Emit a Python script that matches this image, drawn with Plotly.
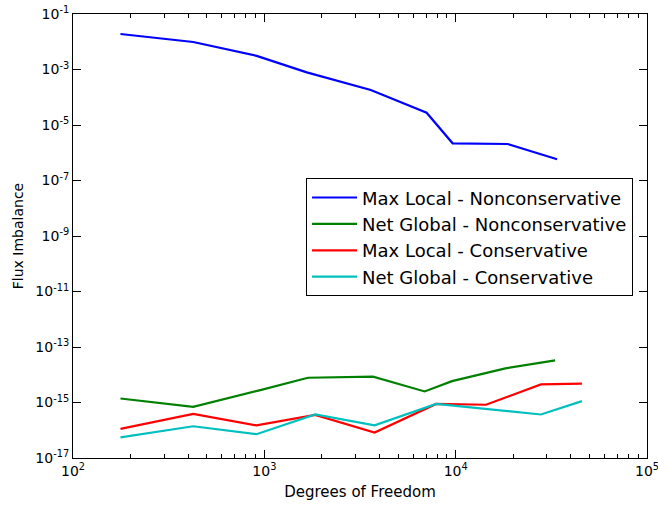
import plotly.graph_objects as go

# Data
dof_ml_nc = [177, 425, 912, 1667, 3600, 7050, 9640, 18700, 33900]
ml_nc = [1.9e-2, 9.8e-3, 3.1e-3, 7.9e-4, 1.82e-4, 2.77e-5, 2.19e-6, 2.07e-6, 5.8e-7]

dof_ng_nc = [177, 425, 953, 1690, 3700, 6890, 9570, 14400, 18200, 33100]
ng_nc = [1.39e-15, 7.0e-16, 2.8e-15, 7.8e-15, 8.5e-15, 2.5e-15, 5.9e-15, 1.2e-14, 1.7e-14, 3.3e-14]

dof_ml_c = [177, 425, 910, 1845, 3770, 7910, 14400, 27900, 45700]
ml_c = [1.12e-16, 3.9e-16, 1.5e-16, 3.55e-16, 8.3e-17, 8.9e-16, 8.3e-16, 4.5e-15, 4.8e-15]

dof_ng_c = [177, 425, 910, 1845, 3770, 7910, 27900, 45700]
ng_c = [5.5e-17, 1.39e-16, 7.2e-17, 3.7e-16, 1.5e-16, 8.9e-16, 3.7e-16, 1.12e-15]

names = ["Max Local - Nonconservative", "Net Global - Nonconservative",
         "Max Local - Conservative", "Net Global - Conservative"]
colors = ["#0000ff", "#008000", "#ff0000", "#00bfbf"]

y_exps = [-17, -15, -13, -11, -9, -7, -5, -3, -1]
x_exps = [2, 3, 4, 5]

fig = go.Figure()
series = [(dof_ml_nc, ml_nc), (dof_ng_nc, ng_nc), (dof_ml_c, ml_c), (dof_ng_c, ng_c)]
for (xs, ys), n, c in zip(series, names, colors):
    fig.add_trace(go.Scatter(x=xs, y=ys, mode="lines", name=n,
                             line=dict(color=c, width=2.2)))

font = "DejaVu Sans"
x_minor = [m * 10 ** e for e in [2, 3, 4] for m in range(2, 10)]

fig.update_layout(
    width=658, height=505,
    margin=dict(l=73, r=11, t=14, b=47),
    plot_bgcolor="white", paper_bgcolor="white",
    font=dict(family=font, size=14, color="black"),
    showlegend=True,
    legend=dict(x=0.406, y=0.630, xanchor="left", yanchor="top",
                bordercolor="black", borderwidth=1, bgcolor="white",
                font=dict(size=18, family=font), tracegroupgap=0,
                itemwidth=45),
    xaxis=dict(type="log", range=[2, 5], showgrid=False, zeroline=False,
               automargin=False, ticklabeloverflow="allow",
               showline=True, linecolor="black", linewidth=1, mirror="ticks",
               ticks="inside", ticklen=8, tickcolor="black",
               tickvals=[10 ** e for e in x_exps],
               ticktext=[f"10<sup>{e}</sup>" for e in x_exps],
               tickfont=dict(size=14),
               minor=dict(tickvals=x_minor, ticks="inside", ticklen=4, tickcolor="black"),
               title=dict(text="Degrees of Freedom", font=dict(size=15), standoff=8)),
    yaxis=dict(type="log", range=[-17, -1], showgrid=False, zeroline=False,
               automargin=False, ticklabeloverflow="allow",
               showline=True, linecolor="black", linewidth=1, mirror="ticks",
               ticks="inside", ticklen=8, tickcolor="black",
               tickvals=[10.0 ** e for e in y_exps],
               ticktext=[f"10<sup>{e}</sup>" for e in y_exps],
               tickfont=dict(size=14),
               title=dict(text="Flux Imbalance", font=dict(size=14), standoff=8)),
)

fig.write_html("out.html")
